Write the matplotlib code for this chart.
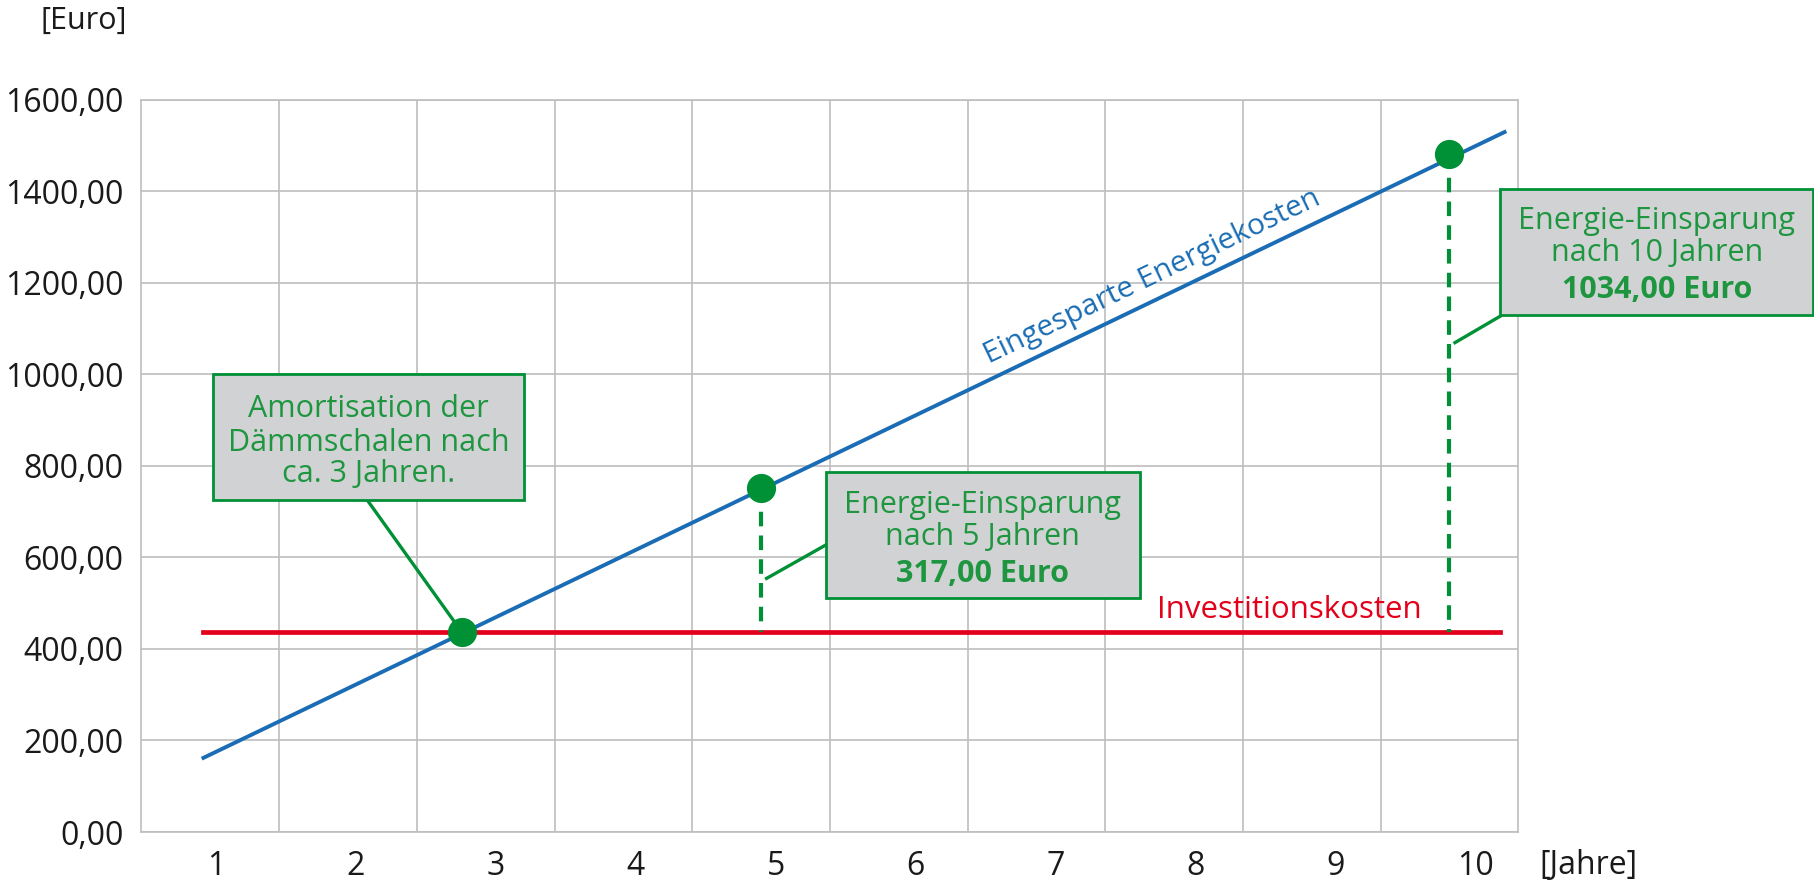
import numpy as np
import matplotlib
matplotlib.use('Agg')
import matplotlib.pyplot as plt
from matplotlib.patches import Rectangle

plt.rcParams['font.family'] = ['Open Sans', 'DejaVu Sans']

# data
years = [1, 2, 3, 4, 5, 6, 7, 8, 9, 10]
year_labels = [str(y) for y in years]
y_ticks = [0, 200, 400, 600, 800, 1000, 1200, 1400, 1600]
y_labels = ['0,00', '200,00', '400,00', '600,00', '800,00', '1000,00', '1200,00', '1400,00', '1600,00']

# saved energy cost line (start / end of the drawn line)
savings_x = [0.95, 10.4]
savings_y = [162, 1529]
# investment cost line
invest_x = [0.95, 10.37]
invest_y = [437, 437]
# highlighted points: break even, after 5 years, after 10 years
point_x = [2.83, 5.0, 10.0]
point_y = [437, 751, 1481]

blue = '#1A6DB4'
red = '#E2001A'
green = '#009036'
text_green = '#1E9640'
box_grey = '#D1D2D4'
grid_grey = '#BEBEBE'

fig = plt.figure(figsize=(18.14, 8.81), dpi=100)
ax = fig.add_axes([0.078, 0.0556, 0.759, 0.8314])
ax.set_xlim(0.5, 10.5)
ax.set_ylim(0, 1600)

# grid: horizontal at y ticks, vertical between years
ax.set_yticks(y_ticks)
ax.set_yticklabels(y_labels)
ax.set_xticks(np.linspace(1.04, 10.19, 10))
ax.set_xticklabels(year_labels)
ax.set_xticks(np.arange(1.5, 10.5, 1), minor=True)
ax.grid(True, which='minor', axis='x', color=grid_grey, lw=1.2)
ax.grid(True, which='major', axis='y', color=grid_grey, lw=1.2)
ax.tick_params(which='both', length=0)
ax.tick_params(axis='y', pad=13, labelsize=23, labelcolor='#1a1a1a')
ax.tick_params(axis='x', pad=13, labelsize=23, labelcolor='#1a1a1a')
for s in ax.spines.values():
    s.set_color(grid_grey)
    s.set_linewidth(1.2)
ax.set_axisbelow(True)

# lines
ax.plot(savings_x, savings_y, color=blue, lw=2.8, zorder=3)
ax.plot(invest_x, invest_y, color=red, lw=3.4, zorder=3)

# dashed drops from savings points to the investment line
for i in [1, 2]:
    ax.plot([point_x[i], point_x[i]], [point_y[i], invest_y[0]], color=green,
            lw=3, ls=(0, (3.5, 2.2)), zorder=3)

ax.plot(point_x, point_y, 'o', color=green, ms=20, zorder=5, clip_on=False)

# label along the blue line
p1 = ax.transData.transform((savings_x[0], savings_y[0]))
p2 = ax.transData.transform((savings_x[1], savings_y[1]))
angle = np.degrees(np.arctan2(p2[1] - p1[1], p2[0] - p1[0]))
ax.text(7.84, 1213, 'Eingesparte Energiekosten', color=blue, fontsize=21.5,
        rotation=angle, rotation_mode='anchor', ha='center', va='center')

ax.text(8.84, 485, 'Investitionskosten', color=red, fontsize=22.5,
        ha='center', va='center')


def callout(x0, x1, y0, y1, lines, line_y, link):
    ax.add_patch(Rectangle((x0, y0), x1 - x0, y1 - y0, facecolor=box_grey,
                           edgecolor=green, lw=2, zorder=6, clip_on=False))
    xc = (x0 + x1) / 2
    for k, (txt, ly) in enumerate(zip(lines, line_y)):
        bold = (k == 2 and 'Euro' in txt)
        ax.text(xc, ly, txt, color=text_green, fontsize=22, ha='center', va='center',
                fontweight='bold' if bold else 'normal', zorder=7, clip_on=False)
    ax.plot(link[0], link[1], color=green, lw=2.4, zorder=4, clip_on=False)


callout(1.02, 3.28, 725, 1001,
        ['Amortisation der', 'Dämmschalen nach', 'ca. 3 Jahren.'],
        [925, 849, 781],
        ([2.14, 2.79], [725, 452]))
callout(5.47, 7.75, 511, 786,
        ['Energie-Einsparung', 'nach 5 Jahren', '317,00 Euro'],
        [715, 645, 564],
        ([5.04, 5.47], [554, 627]))
callout(10.37, 12.64, 1130, 1405,
        ['Energie-Einsparung', 'nach 10 Jahren', '1034,00 Euro'],
        [1335, 1264, 1183],
        ([10.04, 10.37], [1069, 1127]))

fig.text(127 / 1814, 1 - 21 / 881, '[Euro]', fontsize=22, color='#1a1a1a',
         ha='right', va='center')
fig.text(1539 / 1814, 1 - 866 / 881, '[Jahre]', fontsize=23, color='#1a1a1a',
         ha='left', va='center')

fig.savefig('out.png', dpi=100)
